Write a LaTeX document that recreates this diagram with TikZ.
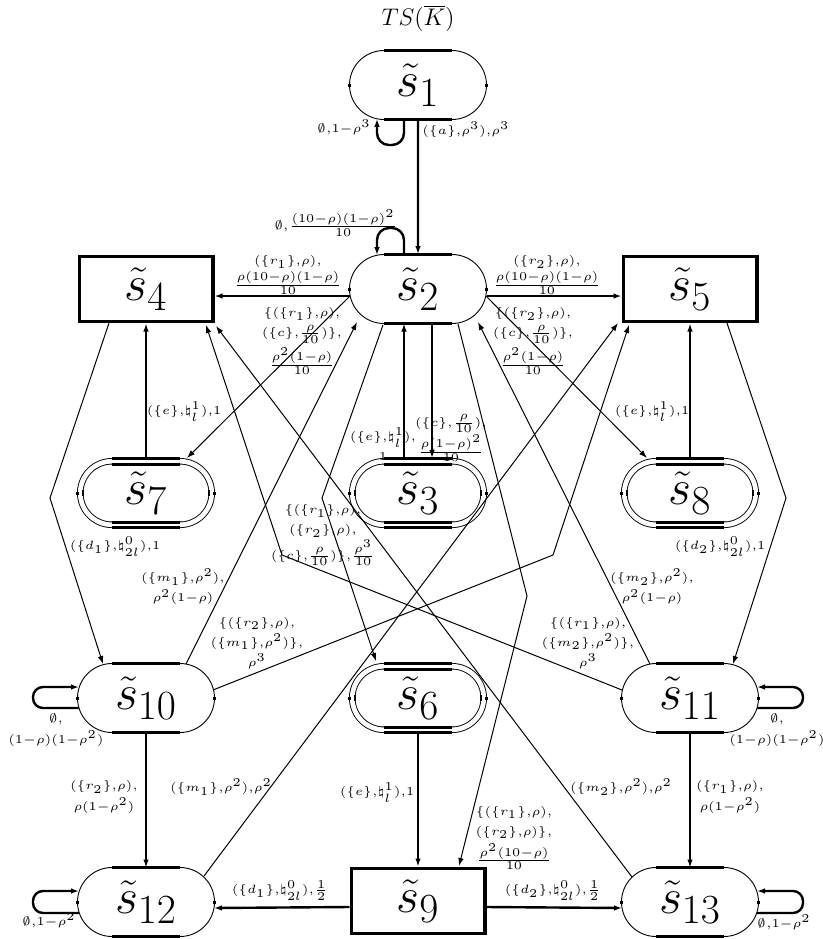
\documentclass[tikz,border=0pt]{standalone}
\usetikzlibrary{shapes.misc,arrows.meta,calc}
\newcommand\lblfont{\fontsize{5}{8.4}\selectfont}
\newcommand\ms[1]{$\scriptstyle #1$}
% node, flat half-length, half-height, half-width, tick half-length (all in px units)
\newcommand\sbars[5]{%
  \draw[barst] ($(#1)+(-#2,-#3)$) -- ($(#1)+(#2,-#3)$);
  \draw[barst] ($(#1)+(-#2,#3)$) -- ($(#1)+(#2,#3)$);
  \draw[tickst] ($(#1)+(-#4,-#5)$) -- ($(#1)+(-#4,#5)$);
  \draw[tickst] ($(#1)+(#4,-#5)$) -- ($(#1)+(#4,#5)$);
}
\begin{document}
\begin{tikzpicture}[x=0.5pt,y=-0.5pt,
  >={Latex[length=4pt,width=2.8pt]},
  stad/.style={rounded rectangle, draw, line width=0.45pt, minimum width=68.5pt, minimum height=34.5pt, inner sep=0pt, font=\Huge},
  dstad/.style={rounded rectangle, draw, double, double distance=2.35pt, line width=0.45pt, minimum width=65.75pt, minimum height=31.75pt, inner sep=0pt, font=\Huge},
  rect/.style={rectangle, draw, line width=1.6pt, minimum width=66.9pt, minimum height=32.4pt, inner sep=0pt, font=\Huge},
  barst/.style={line width=1.5pt},
  tickst/.style={line width=1.1pt},
  thk/.style={->, line width=1.2pt},
  thn/.style={->, line width=0.5pt},
  lab/.style={font=\lblfont, align=center, inner sep=0pt, scale=1.2, transform shape},
  ttl/.style={font=\large, inner sep=0pt}
]
\useasboundingbox (0,0) rectangle (823,939);

\node[ttl] (title) at (418,18) {$TS(\overline{K})$};

% nodes
\node[stad] (s1) at (418,85) {$\tilde{s}_1$};
\node[stad] (s2) at (418,289) {$\tilde{s}_2$};
\node[rect] (s4) at (146,289) {$\tilde{s}_4$};
\node[rect] (s5) at (690,289) {$\tilde{s}_5$};
\node[dstad] (s7) at (146,493) {$\tilde{s}_7$};
\node[dstad] (s3) at (418,493) {$\tilde{s}_3$};
\node[dstad] (s8) at (690,493) {$\tilde{s}_8$};
\node[stad] (s10) at (146,698) {$\tilde{s}_{10}$};
\node[dstad] (s6) at (418,698) {$\tilde{s}_6$};
\node[stad] (s11) at (690,698) {$\tilde{s}_{11}$};
\node[stad] (s12) at (146,902) {$\tilde{s}_{12}$};
\node[rect] (s9) at (418,901) {$\tilde{s}_9$};
\node[stad] (s13) at (690,902) {$\tilde{s}_{13}$};

\sbars{s1}{34}{34.5}{68.5}{1.5}
\sbars{s2}{34}{34.5}{68.5}{1.5}
\sbars{s10}{34}{34.5}{68.5}{1.5}
\sbars{s11}{34}{34.5}{68.5}{1.5}
\sbars{s12}{34}{34.5}{68.5}{1.5}
\sbars{s13}{34}{34.5}{68.5}{1.5}
\foreach \n in {s3,s6,s7,s8}{
  \sbars{\n}{34}{34.6}{68.5}{1.5}
  \sbars{\n}{34}{29}{63}{3}
}

% bend coordinates
\coordinate (b1) at (50,498);
\coordinate (b2) at (786,498);
\coordinate (b3) at (553,555);
\coordinate (b4) at (282,555);
\coordinate (b5) at (322,498);
\coordinate (b6) at (527,596);

% thick edges
\draw[thk] (s1) -- (s2);
\draw[thk,rounded corners=6pt] ($(s1)+(-14,34.5)$) -- ($(s1)+(-14,60)$) -| ($(s1)+(-41,33.8)$);
\draw[thk,rounded corners=6pt] ($(s2)+(-14,-34.5)$) -- ($(s2)+(-14,-61)$) -| ($(s2)+(-41,-33.8)$);
\draw[thk] ($(s2)+(-68.5,7)$) -- ($(s4)+(68.5,7)$);
\draw[thk] ($(s2)+(68.5,7)$) -- ($(s5)+(-68.5,7)$);
\draw[thk] ($(s2)+(14,34.5)$) -- ($(s3)+(14,-35)$);
\draw[thk] ($(s3)+(-14,-35)$) -- ($(s2)+(-14,34.5)$);
\draw[thk] ($(s7)+(0,-35)$) -- ($(s4)+(0,34.5)$);
\draw[thk] ($(s8)+(0,-35)$) -- ($(s5)+(0,34.5)$);
\draw[thk] ($(s6)+(0,35)$) -- ($(s9)+(0,-34.5)$);
\draw[thk] ($(s10)+(0,34.5)$) -- ($(s12)+(0,-34.5)$);
\draw[thk] ($(s11)+(0,34.5)$) -- ($(s13)+(0,-34.5)$);
\draw[thk] ($(s9)+(-68.5,6)$) -- ($(s12)+(68,6)$);
\draw[thk] ($(s9)+(68.5,6)$) -- ($(s13)+(-68,6)$);
\draw[thk,rounded corners=5pt] ($(s10)+(-67,10)$) -- ($(s10)+(-113,10)$) |- ($(s10)+(-67,-11)$);
\draw[thk,rounded corners=5pt] ($(s12)+(-67,11)$) -- ($(s12)+(-113,11)$) |- ($(s12)+(-67,-11)$);
\draw[thk,rounded corners=5pt] ($(s11)+(67,10)$) -- ($(s11)+(113,10)$) |- ($(s11)+(67,-11)$);
\draw[thk,rounded corners=5pt] ($(s13)+(67,11)$) -- ($(s13)+(113,11)$) |- ($(s13)+(67,-11)$);

% thin edges
\draw[thn] ($(s2)+(-68,7)$) -- ($(s7)+(41,-35)$);
\draw[thn] ($(s2)+(68,7)$) -- ($(s8)+(-43,-35)$);
\draw[thn] ($(s4)+(-37,34)$) -- (b1) -- ($(s10)+(-43,-34)$);
\draw[thn] ($(s5)+(37,34)$) -- (b2) -- ($(s11)+(43,-34)$);
\draw[thn] ($(s10)+(40,-34)$) -- ($(s2)+(-61,33)$);
\draw[thn] ($(s11)+(-40,-34)$) -- ($(s2)+(60,33)$);
\draw[thn] ($(s10)+(67,-8)$) -- (b3) -- ($(s5)+(-61,36)$);
\draw[thn] ($(s11)+(-68,-8)$) -- (b4) -- ($(s4)+(60,36)$);
\draw[thn] ($(s12)+(58,-26)$) -- ($(s5)+(-72,34)$);
\draw[thn] ($(s13)+(-58,-25)$) -- ($(s4)+(70,37)$);
\draw[thn] ($(s2)+(-35,36)$) -- (b5) -- ($(s6)+(-42,-37)$);
\draw[thn] ($(s2)+(40,35)$) -- (b6) -- ($(s9)+(41,-35)$);

% labels
\node[lab] (l1) at (344,127) {\ms{\emptyset,1-\rho^3}};
\node[lab] (l2) at (466,130) {\ms{(\{a\},\rho^3),\rho^3}};
\node[lab] (l3) at (336,223) {\ms{\emptyset,\frac{(10-\rho)(1-\rho)^2}{10}}};
\node[lab] (l4) at (288,275) {\ms{(\{r_1\},\rho),}\\[1.5pt]\ms{\frac{\rho(10-\rho)(1-\rho)}{10}}};
\node[lab] (l5) at (547,275) {\ms{(\{r_2\},\rho),}\\[1.5pt]\ms{\frac{\rho(10-\rho)(1-\rho)}{10}}};
\node[lab] (l6) at (302,341) {\ms{\{(\{r_1\},\rho),}\\\ms{(\{c\},\frac{\rho}{10})\},}\\[1pt]\ms{\frac{\rho^2(1-\rho)}{10}}};
\node[lab] (l7) at (533,341) {\ms{\{(\{r_2\},\rho),}\\\ms{(\{c\},\frac{\rho}{10})\},}\\[1pt]\ms{\frac{\rho^2(1-\rho)}{10}}};
\node[lab] (l8) at (184,412) {\ms{(\{e\},\natural^1_l),1}};
\node[lab] (l9) at (652,412) {\ms{(\{e\},\natural^1_l),1}};
\node[lab] (l10) at (383,444) {\ms{(\{e\},\natural^1_l),}\\\ms{1}};
\node[lab] (l11) at (451,438) {\ms{(\{c\},\frac{\rho}{10}),}\\\ms{\frac{\rho(1-\rho)^2}{10}}};
\node[lab] (l12) at (115,547) {\ms{(\{d_1\},\natural^0_{2l}),1}};
\node[lab] (l13) at (720,547) {\ms{(\{d_2\},\natural^0_{2l}),1}};
\node[lab] (l14) at (323,535) {\ms{\{(\{r_1\},\rho),}\\\ms{(\{r_2\},\rho),}\\\ms{(\{c\},\frac{\rho}{10})\},\frac{\rho^3}{10}}};
\node[lab] (l15) at (183,587) {\ms{(\{m_1\},\rho^2),}\\\ms{\rho^2(1-\rho)}};
\node[lab] (l16) at (652,587) {\ms{(\{m_2\},\rho^2),}\\\ms{\rho^2(1-\rho)}};
\node[lab] (l17) at (257,643) {\ms{\{(\{r_2\},\rho),}\\\ms{(\{m_1\},\rho^2)\},}\\\ms{\rho^3}};
\node[lab] (l18) at (588,643) {\ms{\{(\{r_1\},\rho),}\\\ms{(\{m_2\},\rho^2)\},}\\\ms{\rho^3}};
\node[lab] (l19) at (56,730) {\ms{\emptyset,}\\\ms{(1-\rho)(1-\rho^2)}};
\node[lab] (l20) at (777,730) {\ms{\emptyset,}\\\ms{(1-\rho)(1-\rho^2)}};
\node[lab] (l21) at (104,797) {\ms{(\{r_2\},\rho),}\\\ms{\rho(1-\rho^2)}};
\node[lab] (l22) at (730,797) {\ms{(\{r_1\},\rho),}\\\ms{\rho(1-\rho^2)}};
\node[lab] (l23) at (221,787) {\ms{(\{m_1\},\rho^2),\rho^2}};
\node[lab] (l24) at (621,787) {\ms{(\{m_2\},\rho^2),\rho^2}};
\node[lab] (l25) at (377,793) {\ms{(\{e\},\natural^1_l),1}};
\node[lab] (l26) at (514,838) {\ms{\{(\{r_1\},\rho),}\\\ms{(\{r_2\},\rho)\},}\\[1pt]\ms{\frac{\rho^2(10-\rho)}{10}}};
\node[lab] (l27) at (280,891) {\ms{(\{d_1\},\natural^0_{2l}),\frac{1}{2}}};
\node[lab] (l28) at (553,891) {\ms{(\{d_2\},\natural^0_{2l}),\frac{1}{2}}};
\node[lab] (l29) at (49,920) {\ms{\emptyset,1-\rho^2}};
\node[lab] (l30) at (784,922) {\ms{\emptyset,1-\rho^2}};
\end{tikzpicture}
\end{document}
